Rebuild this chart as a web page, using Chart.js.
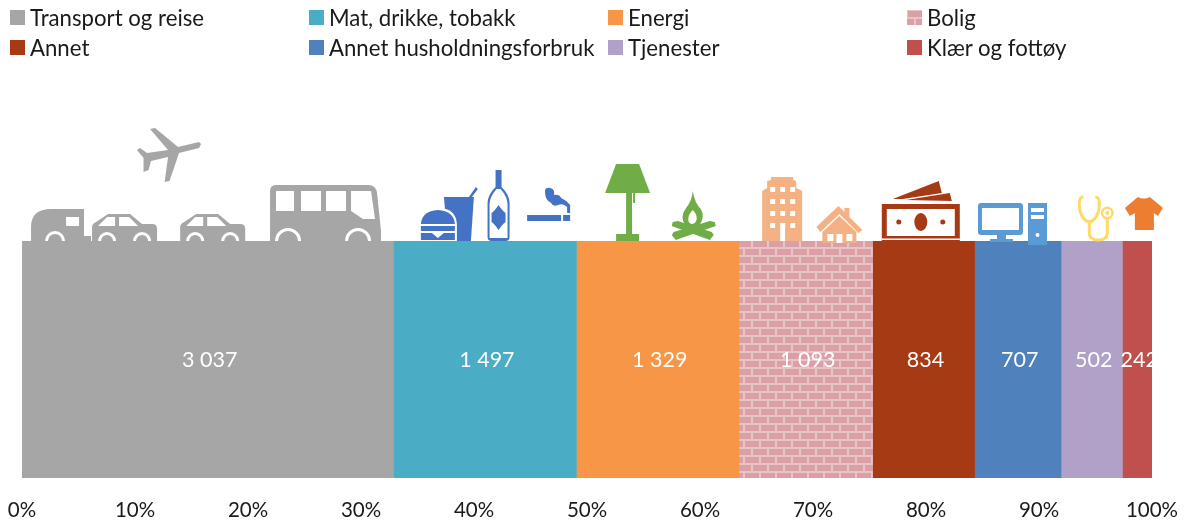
<!DOCTYPE html>
<html lang="no">
<head>
<meta charset="utf-8">
<style>
html,body{margin:0;padding:0;background:#fff;overflow:hidden}
#wrap{position:relative;width:1188px;height:521px}
#c{position:absolute;left:0;top:0}
.lg{position:absolute;display:flex;align-items:center;height:30px;font:22.2px Lato,sans-serif;color:#1a1a1a;white-space:nowrap}
.lg i{display:block;width:15px;height:15px;margin-right:5px}
</style>
</head>
<body>
<div id="wrap"><canvas id="c" width="1188" height="521"></canvas></div>
<script src="https://cdn.jsdelivr.net/npm/chart.js@4"></script>
<script>
const categories = ['Transport og reise','Mat, drikke, tobakk','Energi','Bolig','Annet','Annet husholdningsforbruk','Tjenester','Klær og fottøy'];
const values = [3037,1497,1329,1093,834,707,502,242];
const colors = ['#a6a6a6','#4bacc6','#f79646','brick','#a63a15','#4f81bd','#b1a0c7','#c0504d'];
const tickStep = 10;
const legendCols = [10,309,608,907];
const legendRows = [2,32];

const total = values.reduce((a,b)=>a+b,0);

function brickTile(){
  const t=document.createElement('canvas');t.width=32;t.height=16;
  const g=t.getContext('2d');
  g.fillStyle='#e9c4c7';g.fillRect(0,0,32,16);
  g.fillStyle='#dba0a6';
  g.fillRect(1,1,14,6);g.fillRect(17,1,14,6);
  g.fillRect(-7,9,14,6);g.fillRect(9,9,14,6);g.fillRect(25,9,14,6);
  return t;
}
const tile=brickTile();
const brick=document.getElementById('c').getContext('2d').createPattern(tile,'repeat');

// icon shapes: local pixels, origin = left of icon on the top edge of the bars
const circ=(x,y,r)=>`M${x-r} ${y}a${r} ${r} 0 1 0 ${2*r} 0a${r} ${r} 0 1 0 ${-2*r} 0Z`;
const oval=(x,y,rx,ry)=>`M${x-rx} ${y}a${rx} ${ry} 0 1 0 ${2*rx} 0a${rx} ${ry} 0 1 0 ${-2*rx} 0Z`;
const half=(x,r)=>`M${x-r} 0a${r} ${r} 0 0 1 ${2*r} 0Z`;
const G='#a6a6a6',B='#4472c4',W='#ffffff',L='#70ad47',P='#f4b183',M='#a63a15',C='#5b9bd5',Y='#ffd966',O='#ed7d31';
const car=[
 [G,'M0 0V-14Q0 -17 4 -19L16 -27H38L50 -17H60Q65 -17 65 -12V0Z'],
 [W,'M6 -15L15 -24H23V-15ZM27 -24H37L46 -15H27Z'],
 [W,half(15,9)+half(50,9)],[G,half(15,6)+half(50,6)]
];
const windows=[];
for(const y of [-54,-42,-30,-18]) for(const x of [8,18,28]) windows.push(`M${x} ${y}h5v5h-5Z`);
const icons=[
 {at:10.18,y:-113,shapes:[[G,'M64 16L62 14L41 19L18 0L13 1L31 22L10 25L3 20L0 22L6.5 30L6.5 44L11.5 42L14 33L31 29L27.6 54L32.5 53L42 25L62 20Z']]},
 {at:0.8,shapes:[
  [G,'M0 0V-14Q0 -32 20 -32H53V-5H60V0Z'],[W,'M35 -24h13v9h-13Z'],[W,half(24,10)],[G,half(24,7)]]},
 {at:6.2,shapes:car},
 {at:14.0,shapes:car},
 {at:21.95,shapes:[
  [G,'M0 0V-50Q0 -56 6 -56H98Q106 -56 107 -48L111 -10V0Z'],
  [W,'M6 -50H24V-30H6ZM31 -50H51V-30H31ZM56 -50H76V-30H56ZM81 -50H101L105 -22H93L81 -30Z'],
  [W,half(18,13)+half(88,13)],[G,half(18,10)+half(88,10)]]},
 {at:35.3,shapes:[
  [B,'M23 -44H53L50 0H27Z'],
  [B,'M48 -44L55 -54L57 -52L51 -44Z'],
  [W,'M-2 -17Q-1 -33 17 -33Q35 -33 36 -17V0H-2Z'],
  [B,'M0 -17Q1 -30 17 -31Q33 -30 34 -17Z'],
  [B,'M0 -15H34V-10H0Z'],
  [B,'M0 -8H11L17 -3L23 -8H34V-1H0Z']]},
 {at:41.2,shapes:[
  [B,'M8 -71H14V-54Q22 -46 22 -38V-4Q22 0 18 0H4Q0 0 0 -4V-38Q0 -46 8 -54Z'],
  [W,'M9 -52H13Q20 -44 20 -37V-3H2V-37Q2 -44 9 -52Z'],
  [B,'M11 -36Q15 -30 18 -28V-19Q15 -17 11 -11Q7 -17 4 -19V-28Q7 -30 11 -36Z']]},
 {at:44.7,shapes:[
  [B,'M0 -26H34V-20H0ZM36 -26H43V-20H36Z'],
  [B,'M18 -48Q17 -54 23 -53Q28 -52 27 -46Q32 -47 34 -43Q39 -41 43 -36V-28H40V-34Q36 -38 31 -36Q26 -34 24 -38Q18 -41 18 -48Z']]},
 {at:51.6,shapes:[
  [L,'M11 -77H34L45 -48H0Z'],
  [L,'M21 -48H27V-4H21Z'],[L,'M28 -48H30V-38H28Z'],
  [L,'M11 -7H34V0H11Z']]},
 {at:57.5,shapes:[
  [L,'M21 -50Q23 -38 29 -32Q34 -24 27 -15Q20 -10 14 -15Q7 -24 15 -34Q20 -40 21 -50Z'],
  [W,'M21 -31Q27 -25 24 -19Q20 -15 17 -19Q15 -25 21 -31Z'],
  [L,'M0 -15L38 -1L42 -6L40 -9L6 -20L1 -19Z'],
  [L,'M44 -15L4 -1L0 -6L2 -9L38 -20L43 -19Z']]},
 {at:65.5,shapes:[
  [P,'M9 -64H31V-61L34 -60V-53L40 -50V0H0V-50L5 -53V-60L9 -61Z'],
  ...windows.map(d=>[W,d]),
  [W,'M18 -14h5v14h-5Z']]},
 {at:70.3,shapes:[
  [P,'M0 -14L22 -35L28 -29V-33H33V-24L46 -11L42 -8L23 -27L4 -9Z'],
  [P,'M6 -9L23 -25L40 -9V2H6Z'],
  [W,'M11 -7H17V0H11ZM20 -7H26V2H20ZM30 -7H36V0H30Z']]},
 {at:76.0,shapes:[
  [M,'M12 -42L58 -60L61 -48L22 -42Z'],
  [M,'M25 -41L69 -48L71 -40Z'],
  [M,'M1 -37H79V0H1Z'],
  [W,'M6 -32H74V-5H6Z'],
  [M,oval(40,-19,6.5,9)],[M,circ(18,-19,2.5)+circ(62,-19,2.5)],
  [W,'M1 -2.5H79V-1H1Z']]},
 {at:84.6,shapes:[
  [C,'M3 -38H42Q45 -38 45 -35V-9Q45 -6 42 -6H28V-2H35V1H12V-2H19V-6H3Q0 -6 0 -9V-35Q0 -38 3 -38Z'],
  [W,'M4 -33H41V-11H4Z'],
  [C,'M50 -38H69V4H50Z'],
  [W,'M53 -33H66V-29H53ZM53 -26H66V-22H53Z'],[W,circ(59.5,-6,2)]]},
];
// stroke-drawn and extra icons
const strokes=[
 {at:93.3,color:Y,width:3,d:'M7 -44Q3 -44 3 -38Q3 -22 13 -19Q23 -22 23 -38Q23 -44 19 -44M13 -19V-8Q13 -1 22 -1Q31 -1 31 -8V-22'},
];
const tail=[
 {at:93.3,shapes:[[Y,circ(31,-28,6.5)],[W,circ(31,-28,4)],[Y,circ(31,-28,2)]]},
 {at:97.6,shapes:[[O,'M13 -44Q19 -41 25 -44L38 -33L33 -25L29 -28V-11H10V-28L5 -25L0 -33Z']]},
];

const iconPlugin={id:'icons',afterDatasetsDraw(chart){
  const {ctx,scales:{x},chartArea:{top}}=chart;
  ctx.save();
  for(const s of strokes){
    ctx.save();ctx.translate(x.getPixelForValue(s.at),top);
    ctx.strokeStyle=s.color;ctx.lineWidth=s.width;ctx.stroke(new Path2D(s.d));ctx.restore();
  }
  for(const ic of icons.concat(tail)){
    ctx.save();ctx.translate(x.getPixelForValue(ic.at),top+(ic.y||0));
    for(const [col,d] of ic.shapes){
      ctx.fillStyle=col;
      ctx.fill(new Path2D(d));
    }
    ctx.restore();
  }
  ctx.restore();
}};

const valueLabels={id:'valueLabels',afterDatasetsDraw(chart){
  const {ctx,chartArea:a}=chart;
  ctx.save();
  ctx.beginPath();ctx.rect(a.left,a.top,a.right-a.left,a.bottom-a.top);ctx.clip();
  ctx.font='21.5px Lato, sans-serif';ctx.fillStyle='#fff';ctx.textAlign='center';ctx.textBaseline='middle';
  chart.data.datasets.forEach((ds,i)=>{
    const el=chart.getDatasetMeta(i).data[0];
    const t=String(values[i]).replace(/\B(?=(\d{3})+$)/g,' ');
    ctx.fillText(t,el.getCenterPoint().x+2,el.getCenterPoint().y+1);
  });
  ctx.restore();
}};

const htmlLegend={id:'htmlLegend',afterInit(chart){
  const wrap=document.getElementById('wrap');
  chart.data.datasets.forEach((ds,i)=>{
    const d=document.createElement('div');d.className='lg';
    d.style.left=legendCols[i%4]+'px';d.style.top=legendRows[Math.floor(i/4)]+'px';
    const sw=document.createElement('i');
    if(colors[i]==='brick'){sw.style.background='url('+tile.toDataURL()+')';}
    else sw.style.background=colors[i];
    d.appendChild(sw);d.appendChild(document.createTextNode(ds.label));
    wrap.appendChild(d);
  });
}};

new Chart(document.getElementById('c'),{
  type:'bar',
  data:{labels:['Forbruk'],datasets:categories.map((c,i)=>({
    label:c,
    data:[values[i]/total*100],
    backgroundColor:colors[i]==='brick'?brick:colors[i],
    borderWidth:0,barPercentage:1,categoryPercentage:1
  }))},
  options:{
    indexAxis:'y',responsive:false,animation:false,devicePixelRatio:1,
    layout:{padding:{left:22,right:36,top:241,bottom:0}},
    plugins:{legend:{display:false},tooltip:{enabled:false}},
    scales:{
      x:{stacked:true,min:0,max:100,
        grid:{display:false},border:{display:false},
        afterFit(s){s.height=43;s.paddingLeft=0;s.paddingRight=0;},
        ticks:{stepSize:tickStep,maxRotation:0,autoSkip:false,padding:12,color:'#1a1a1a',
          font:{family:'Lato, sans-serif',size:20.5},callback:v=>v+'%'}},
      y:{stacked:true,display:false}
    }
  },
  plugins:[iconPlugin,valueLabels,htmlLegend]
});
</script>
</body>
</html>
